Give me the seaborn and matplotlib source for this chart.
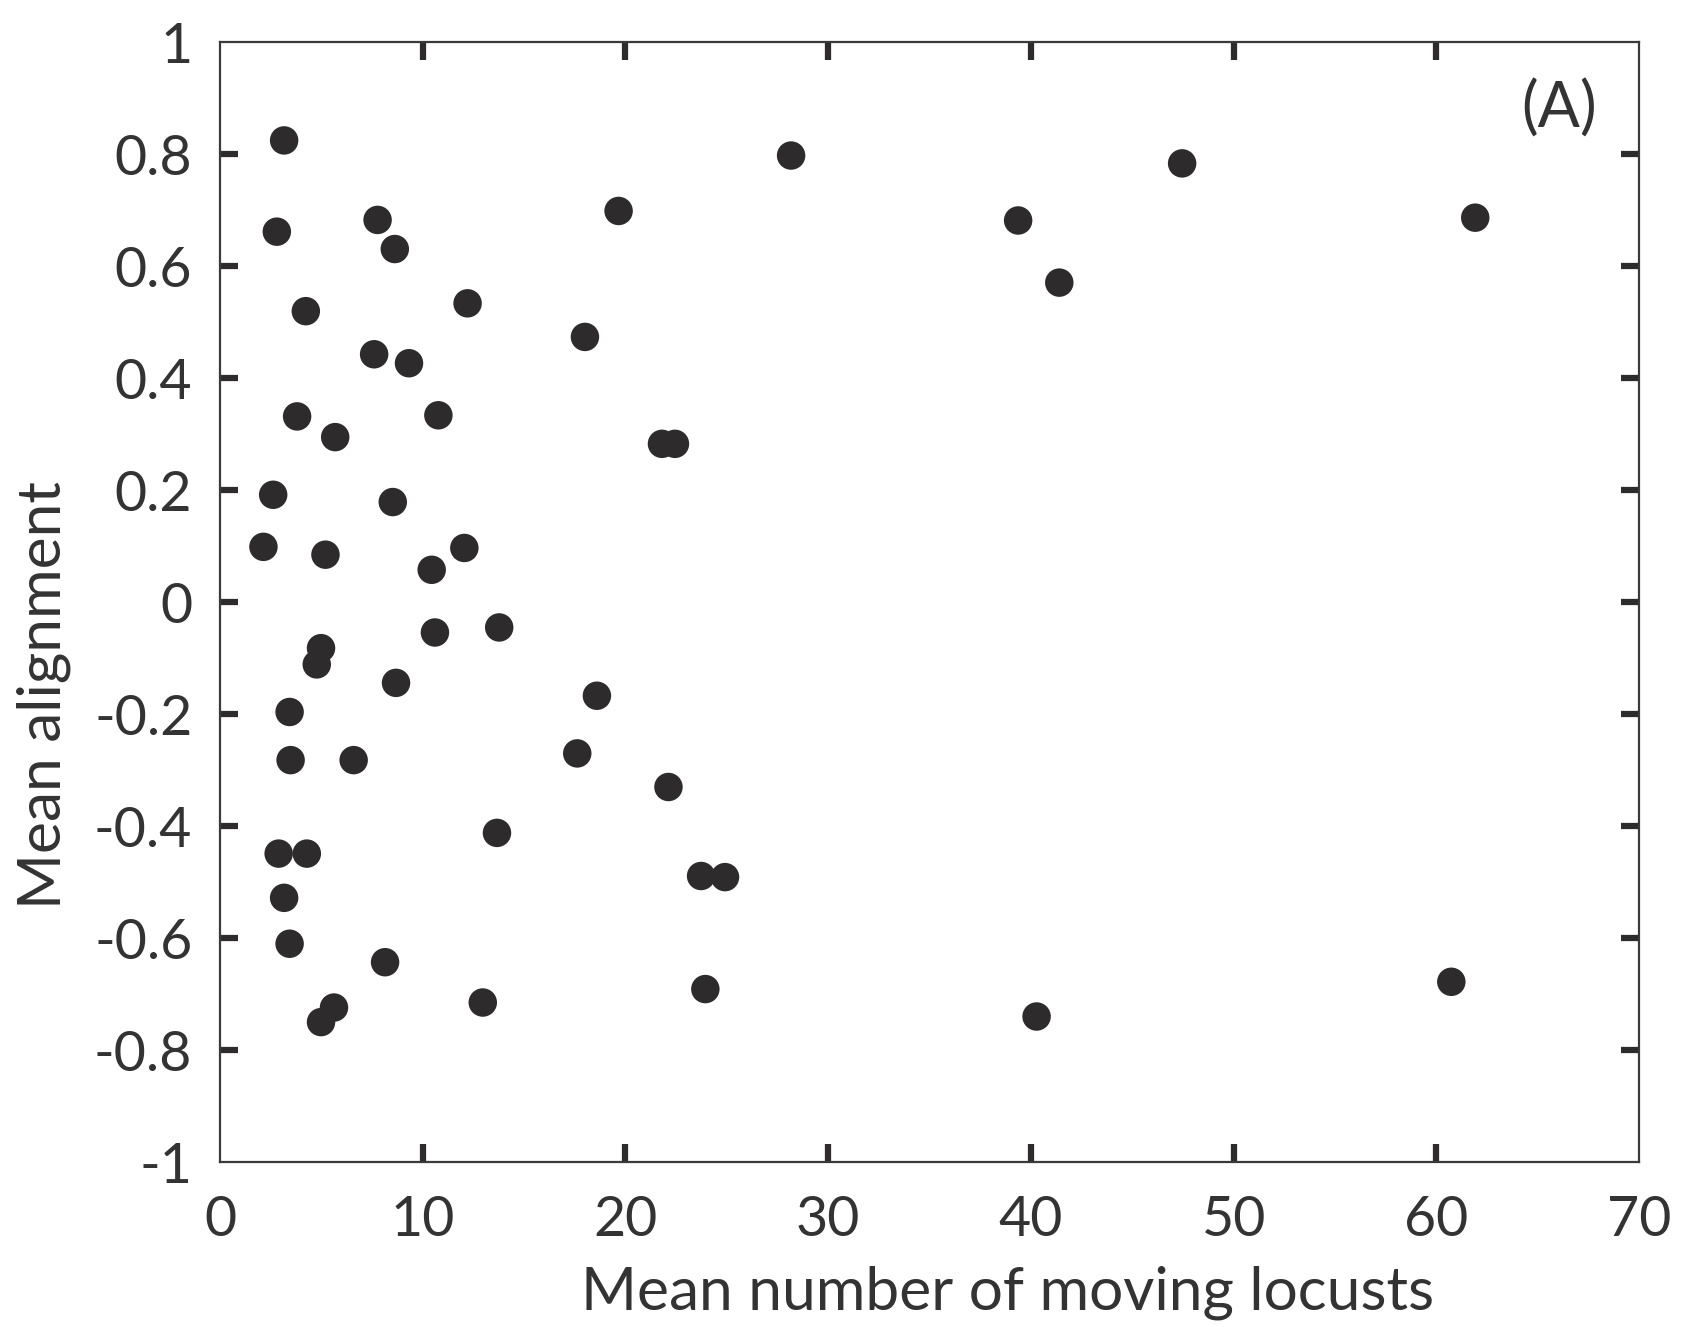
import matplotlib
matplotlib.use("Agg")
import matplotlib.pyplot as plt
import seaborn as sns
import pandas as pd

mean_moving = [3.16, 2.8, 7.77, 8.62, 4.23, 12.21, 7.6, 9.32, 3.8, 5.68, 10.77, 2.62, 8.52,
               2.14, 5.2, 12.05, 10.44, 13.77, 10.6, 4.98, 4.77, 8.68, 3.43, 3.48, 6.59,
               2.89, 4.28, 3.16, 3.43, 4.98, 5.62, 8.14, 12.96, 13.66, 17.62, 18.59, 22.12,
               23.73, 24.91, 23.94, 18.0, 19.66, 21.8, 22.44, 28.17, 39.37, 41.4, 47.46,
               61.92, 40.28, 60.74]
mean_alignment = [0.825, 0.662, 0.683, 0.631, 0.520, 0.534, 0.443, 0.427, 0.332, 0.295, 0.334,
                  0.192, 0.179, 0.099, 0.085, 0.097, 0.058, -0.045, -0.054, -0.082, -0.111,
                  -0.144, -0.196, -0.282, -0.282, -0.449, -0.449, -0.528, -0.610, -0.750,
                  -0.724, -0.643, -0.715, -0.412, -0.270, -0.167, -0.330, -0.489, -0.491,
                  -0.691, 0.474, 0.699, 0.283, 0.283, 0.798, 0.682, 0.571, 0.784, 0.687,
                  -0.740, -0.678]
x_ticks = [0, 10, 20, 30, 40, 50, 60, 70]
y_ticks = [-1, -0.8, -0.6, -0.4, -0.2, 0, 0.2, 0.4, 0.6, 0.8, 1]
y_tick_labels = ["-1", "-0.8", "-0.6", "-0.4", "-0.2", "0", "0.2", "0.4", "0.6", "0.8", "1"]

df = pd.DataFrame({"x": mean_moving, "y": mean_alignment})

sns.set_theme(style="white")
plt.rcParams["font.family"] = ["Lato", "DejaVu Sans"]
ink = "#2d2b2c"

fig = plt.figure(figsize=(17.02, 13.27), dpi=100)
ax = fig.add_axes([0.1293, 0.1243, 0.963 - 0.1293, 0.968 - 0.1243])

sns.scatterplot(data=df, x="x", y="y", ax=ax, s=420, color=ink, edgecolor="none", linewidth=0)

ax.set_xlim(0, 70)
ax.set_ylim(-1, 1)
ax.set_xticks(x_ticks)
ax.set_xticklabels([str(t) for t in x_ticks])
ax.set_yticks(y_ticks)
ax.set_yticklabels(y_tick_labels)

for s in ax.spines.values():
    s.set_color("#3a3a3a")
    s.set_linewidth(1.6)
    s.set_visible(True)

ax.tick_params(axis="both", which="major", direction="in", length=13, width=4.5,
               color=ink, labelsize=40, labelcolor="#333333",
               top=True, right=True, left=True, bottom=True)
ax.tick_params(axis="x", pad=24)
ax.tick_params(axis="y", pad=20)

# no tick marks at the corners
for tk in [ax.xaxis.get_major_ticks()[0], ax.xaxis.get_major_ticks()[-1],
           ax.yaxis.get_major_ticks()[0], ax.yaxis.get_major_ticks()[-1]]:
    tk.tick1line.set_visible(False)
    tk.tick2line.set_visible(False)

ax.set_xlabel("Mean number of moving locusts", fontsize=43.5, color="#333333")
ax.set_ylabel("Mean alignment", fontsize=43.5, color="#333333")
ax.xaxis.set_label_coords(0.555, -0.092)
ax.yaxis.set_label_coords(-0.105, 0.417)

ax.text(0.944, 0.941, "(A)", transform=ax.transAxes, fontsize=45, color="#333333",
        ha="center", va="center")

fig.savefig("out.png", dpi=100)
